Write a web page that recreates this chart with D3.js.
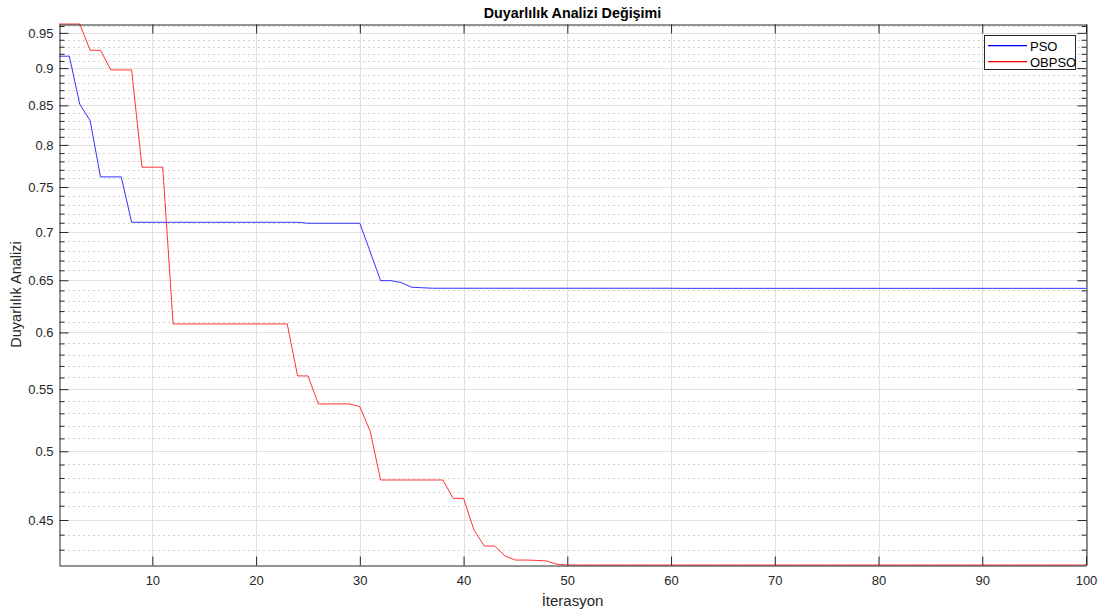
<!DOCTYPE html>
<html>
<head>
<meta charset="utf-8">
<script src="https://cdn.jsdelivr.net/npm/d3@7"></script>
<style>
  html, body { margin: 0; padding: 0; background: #ffffff; }
  svg { display: block; }
  text { font-family: "Liberation Sans", Arial, Helvetica, sans-serif; }
</style>
</head>
<body>
<svg id="chart" width="1103" height="613"></svg>
<script>
// ---- data ----
const iterations = d3.range(1, 101);

const psoValues = [
  0.9166, 0.9166, 0.8516, 0.8304, 0.7617, 0.7617, 0.7617, 0.7105, 0.7105, 0.7105,
  0.7105, 0.7105, 0.7105, 0.7105, 0.7105, 0.7105, 0.7105, 0.7105, 0.7105, 0.7105,
  0.7105, 0.7105, 0.7105, 0.7105, 0.7094, 0.7094, 0.7094, 0.7094, 0.7094, 0.7094,
  0.6790, 0.6496, 0.6496, 0.6477, 0.6431, 0.6426, 0.6421, 0.6421, 0.6421, 0.6421,
  0.6421, 0.6421, 0.6421, 0.6421, 0.6421, 0.6421, 0.6421, 0.6421, 0.6421, 0.6421,
  0.6421, 0.6421, 0.6421, 0.6421, 0.6421, 0.6421, 0.6421, 0.6421, 0.6421, 0.6421,
  0.6420, 0.6420, 0.6420, 0.6420, 0.6420, 0.6420, 0.6420, 0.6420, 0.6420, 0.6420,
  0.6420, 0.6420, 0.6420, 0.6420, 0.6420, 0.6420, 0.6420, 0.6420, 0.6420, 0.6420,
  0.6420, 0.6420, 0.6420, 0.6420, 0.6420, 0.6420, 0.6420, 0.6420, 0.6420, 0.6420,
  0.6420, 0.6420, 0.6420, 0.6420, 0.6420, 0.6420, 0.6420, 0.6420, 0.6420, 0.6420
];

const obpsoValues = [
  0.9630, 0.9630, 0.9630, 0.9250, 0.9250, 0.8975, 0.8975, 0.8975, 0.7731, 0.7731,
  0.7731, 0.6079, 0.6079, 0.6079, 0.6079, 0.6079, 0.6079, 0.6079, 0.6079, 0.6079,
  0.6079, 0.6079, 0.6079, 0.5613, 0.5613, 0.5377, 0.5377, 0.5377, 0.5377, 0.5355,
  0.5155, 0.4785, 0.4785, 0.4785, 0.4785, 0.4785, 0.4785, 0.4785, 0.4652, 0.4652,
  0.4432, 0.4324, 0.4324, 0.4258, 0.4232, 0.4232, 0.4230, 0.4226, 0.4205, 0.4200,
  0.4200, 0.4200, 0.4200, 0.4200, 0.4200, 0.4200, 0.4200, 0.4200, 0.4200, 0.4200,
  0.4200, 0.4200, 0.4200, 0.4200, 0.4200, 0.4200, 0.4200, 0.4200, 0.4200, 0.4200,
  0.4200, 0.4200, 0.4200, 0.4200, 0.4200, 0.4200, 0.4200, 0.4200, 0.4200, 0.4200,
  0.4200, 0.4200, 0.4200, 0.4200, 0.4200, 0.4200, 0.4200, 0.4200, 0.4200, 0.4200,
  0.4200, 0.4200, 0.4200, 0.4200, 0.4200, 0.4200, 0.4200, 0.4200, 0.4200, 0.4200
];

const xTickValues = [10, 20, 30, 40, 50, 60, 70, 80, 90, 100];
const yTickValues = [0.45, 0.5, 0.55, 0.6, 0.65, 0.7, 0.75, 0.8, 0.85, 0.9, 0.95];
const yTickLabels = ["0.45", "0.5", "0.55", "0.6", "0.65", "0.7", "0.75", "0.8", "0.85", "0.9", "0.95"];
const yMinorTickValues = [0.43, 0.44, 0.46, 0.47, 0.48, 0.49, 0.51, 0.52, 0.53, 0.54,
  0.56, 0.57, 0.58, 0.59, 0.61, 0.62, 0.63, 0.64, 0.66, 0.67, 0.68, 0.69,
  0.71, 0.72, 0.73, 0.74, 0.76, 0.77, 0.78, 0.79, 0.81, 0.82, 0.83, 0.84,
  0.86, 0.87, 0.88, 0.89, 0.91, 0.92, 0.93, 0.94, 0.96];

const seriesNames = ["PSO", "OBPSO"];
const seriesColors = ["#0000ff", "#ff0000"];
const titleText = "Duyarlılık Analizi Değişimi";
const xLabelText = "İterasyon";
const yLabelText = "Duyarlılık Analizi";

// ---- layout ----
const L = 59, T = 24, R = 1086, B = 565;
const axisColor = "#262626";

const svg = d3.select("#chart");

const allVals = psoValues.concat(obpsoValues);
const x = d3.scaleLinear().domain([1, 100]).range([L, R]);
const y = d3.scaleLog().domain(d3.extent(allVals)).range([B, T]);
const minorInRange = yMinorTickValues.filter(v => v >= y.domain()[0] && v <= y.domain()[1]);

const grid = svg.append("g");

// minor grid (dotted)
grid.selectAll("line.ymin").data(minorInRange)
  .enter().append("line")
  .attr("x1", L + 4).attr("x2", R)
  .attr("y1", d => Math.round(y(d)) + 0.5).attr("y2", d => Math.round(y(d)) + 0.5)
  .attr("stroke", "#d2d2d2").attr("stroke-width", 1).attr("stroke-dasharray", "2,3");

// major grid
grid.selectAll("line.ymaj").data(yTickValues)
  .enter().append("line")
  .attr("x1", L).attr("x2", R)
  .attr("y1", d => Math.round(y(d)) + 0.5).attr("y2", d => Math.round(y(d)) + 0.5)
  .attr("stroke", "#e0e0e0").attr("stroke-width", 1);

grid.selectAll("line.xmaj").data(xTickValues)
  .enter().append("line")
  .attr("y1", T).attr("y2", B)
  .attr("x1", d => Math.round(x(d)) + 0.5).attr("x2", d => Math.round(x(d)) + 0.5)
  .attr("stroke", "#e0e0e0").attr("stroke-width", 1);

// ---- lines ----
const lineGen = d3.line().x((d, i) => x(iterations[i])).y(d => y(d));
[psoValues, obpsoValues].forEach((vals, k) => {
  svg.append("path")
    .datum(vals)
    .attr("d", lineGen)
    .attr("fill", "none")
    .attr("stroke", seriesColors[k])
    .attr("stroke-opacity", 0.8)
    .attr("stroke-width", 1);
});

// ---- axes (MATLAB style, ticks inward, box on) ----
const axG = svg.append("g");
const fmtY = v => yTickLabels[yTickValues.indexOf(v)];

// left
const left = axG.append("g").attr("transform", `translate(${L + 0.5},0)`)
  .call(d3.axisLeft(y).tickValues(yTickValues).tickFormat(fmtY).tickSize(-9).tickPadding(15).tickSizeOuter(0));
left.selectAll("text").attr("x", -6);
const leftMinor = axG.append("g").attr("transform", `translate(${L + 0.5},0)`)
  .call(d3.axisLeft(y).tickValues(minorInRange).tickFormat("").tickSize(-5).tickSizeOuter(0));
leftMinor.select(".domain").remove();

// right
axG.append("g").attr("transform", `translate(${R + 0.5},0)`)
  .call(d3.axisRight(y).tickValues(yTickValues).tickFormat("").tickSize(-9).tickSizeOuter(0));
const rightMinor = axG.append("g").attr("transform", `translate(${R + 0.5},0)`)
  .call(d3.axisRight(y).tickValues(minorInRange).tickFormat("").tickSize(-5).tickSizeOuter(0));
rightMinor.select(".domain").remove();

// bottom
const bottom = axG.append("g").attr("transform", `translate(0,${B + 0.5})`)
  .call(d3.axisBottom(x).tickValues(xTickValues).tickFormat(d3.format("d")).tickSize(-9).tickSizeOuter(0));
bottom.selectAll("text").attr("y", 10).attr("dy", "0.71em");

// top
axG.append("g").attr("transform", `translate(0,${T + 0.5})`)
  .call(d3.axisTop(x).tickValues(xTickValues).tickFormat("").tickSize(-9).tickSizeOuter(0));

axG.selectAll(".domain").attr("stroke", axisColor).attr("stroke-width", 1);
axG.selectAll(".tick line").attr("stroke", axisColor).attr("stroke-width", 1);
axG.selectAll(".tick text").attr("fill", axisColor).attr("font-size", 13)
  .attr("font-family", "'Liberation Sans', Arial, Helvetica, sans-serif");

// ---- title & labels ----
svg.append("text").attr("x", (L + R) / 2).attr("y", 18)
  .attr("text-anchor", "middle").attr("font-size", 14.3).attr("font-weight", "bold")
  .attr("fill", "#000").text(titleText);

svg.append("text").attr("x", (L + R) / 2).attr("y", 606)
  .attr("text-anchor", "middle").attr("font-size", 15).attr("fill", axisColor).text(xLabelText);

svg.append("text").attr("transform", `translate(21,${(T + B) / 2}) rotate(-90)`)
  .attr("text-anchor", "middle").attr("font-size", 14.5).attr("fill", axisColor).text(yLabelText);

// ---- legend ----
const lg = svg.append("g").attr("class", "legend").attr("transform", "translate(984,35)");
lg.append("rect").attr("x", 0.5).attr("y", 0.5).attr("width", 91).attr("height", 34)
  .attr("fill", "#ffffff").attr("stroke", axisColor).attr("stroke-width", 1);
const legendItems = lg.selectAll("g.item").data(seriesNames).enter().append("g")
  .attr("class", "item")
  .attr("transform", (d, k) => `translate(0,${10 + k * 16})`);
legendItems.append("rect")
  .attr("x", 4).attr("y", 0).attr("width", 39).attr("height", 1.3)
  .attr("fill", (d, k) => seriesColors[k]);
legendItems.append("text").attr("x", 46).attr("y", 1).attr("dy", "0.35em")
  .attr("font-size", 13).attr("fill", "#000").text(d => d);
</script>
</body>
</html>
